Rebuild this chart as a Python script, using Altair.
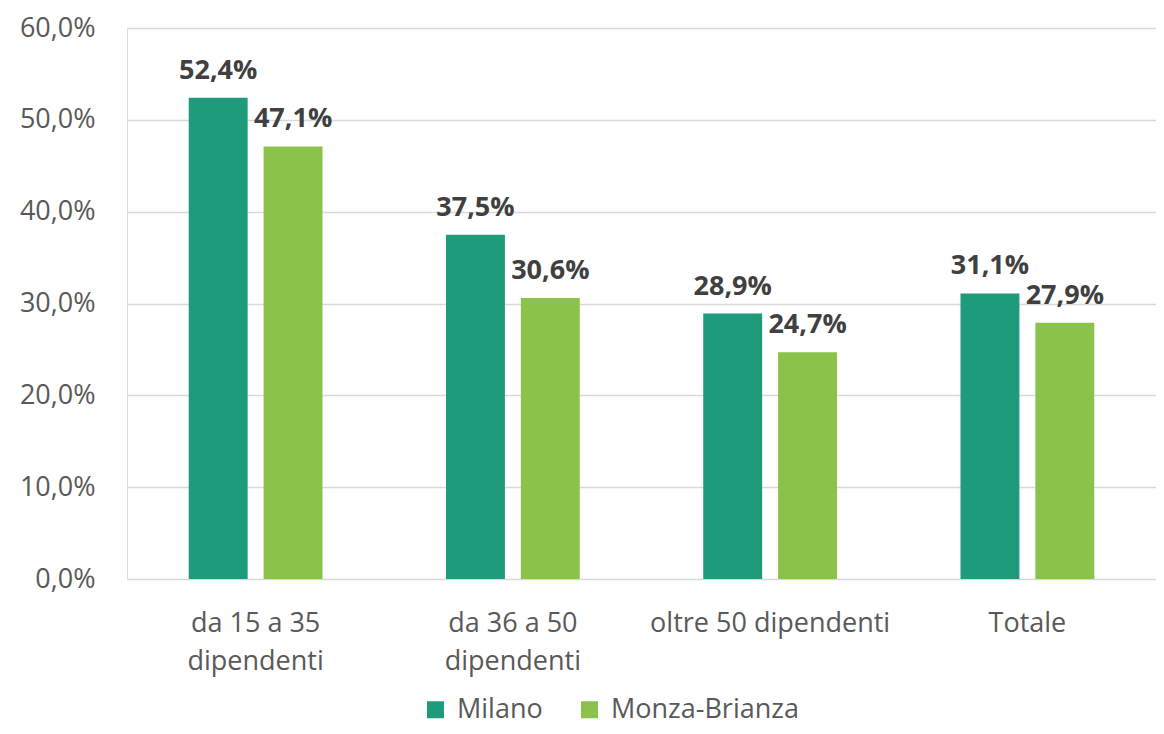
import altair as alt
import pandas as pd

categories = ["da 15 a 35 dipendenti", "da 36 a 50 dipendenti", "oltre 50 dipendenti", "Totale"]
series = ["Milano", "Monza-Brianza"]
milano = [52.4, 37.5, 28.9, 31.1]
monza = [47.1, 30.6, 24.7, 27.9]
colors = ["#1E9B7A", "#8BC24A"]
y_ticks = [0, 10, 20, 30, 40, 50, 60]

rows = []
for c, a, b in zip(categories, milano, monza):
    rows.append({"cat": c, "serie": series[0], "val": a})
    rows.append({"cat": c, "serie": series[1], "val": b})
df = pd.DataFrame(rows)
df["lab"] = df["val"].map(lambda v: f"{v:.1f}%".replace(".", ","))

FONT = "Open Sans"
FS = 27

x_enc = alt.X("cat:N", sort=categories, title=None,
              scale=alt.Scale(paddingInner=0.48, paddingOuter=0.24),
              axis=alt.Axis(labelAngle=0, domain=False, ticks=False, labelPadding=31,
                            labelFontSize=FS, labelColor="#595959", labelFont=FONT,
                            labelLineHeight=38, labelLimit=400,
                            labelExpr="indexof(datum.value, ' a ') > 0 ? [slice(datum.value, 0, 10), slice(datum.value, 11)] : datum.value"))
xo_enc = alt.XOffset("serie:N", sort=series, scale=alt.Scale(paddingInner=0.213, paddingOuter=0))
y_enc = alt.Y("val:Q", title=None,
              scale=alt.Scale(domain=[0, 60], nice=False),
              axis=alt.Axis(values=y_ticks, domain=False, ticks=False, labelPadding=32,
                            labelFontSize=FS, labelColor="#595959", labelFont=FONT,
                            gridColor="#D9D9D9", gridWidth=1.5,
                            labelExpr="replace(format(datum.value, '.1f'), '.', ',') + '%'"))

base = alt.Chart(df)
bars = base.mark_bar().encode(
    x=x_enc, xOffset=xo_enc, y=y_enc,
    color=alt.Color("serie:N", sort=series, title=None,
                    scale=alt.Scale(domain=series, range=colors),
                    legend=alt.Legend(orient="none", legendX=295, legendY=668, direction="horizontal",
                                      symbolType="square", symbolSize=289, symbolStrokeWidth=0,
                                      labelFontSize=FS, labelColor="#595959", labelFont=FONT,
                                      labelLimit=400,
                                      labelOffset=8, columnPadding=33, symbolOpacity=1)),
)
texts = base.mark_text(font=FONT, fontSize=27, fontWeight="bold", color="#404040",
                       baseline="alphabetic", dy=-19).encode(
    x=alt.X("cat:N", sort=categories), xOffset=alt.XOffset("serie:N", sort=series),
    y="val:Q", text="lab:N")

chart = alt.layer(bars, texts).properties(
    width=1029, height=551,
    padding={"left": 119, "top": 20, "right": 0, "bottom": 147},
    autosize=alt.AutoSizeParams(type="none"),
).configure_view(stroke=None).configure(background="white")

chart.save("out.html", embed_options={"renderer": "svg", "actions": False})
